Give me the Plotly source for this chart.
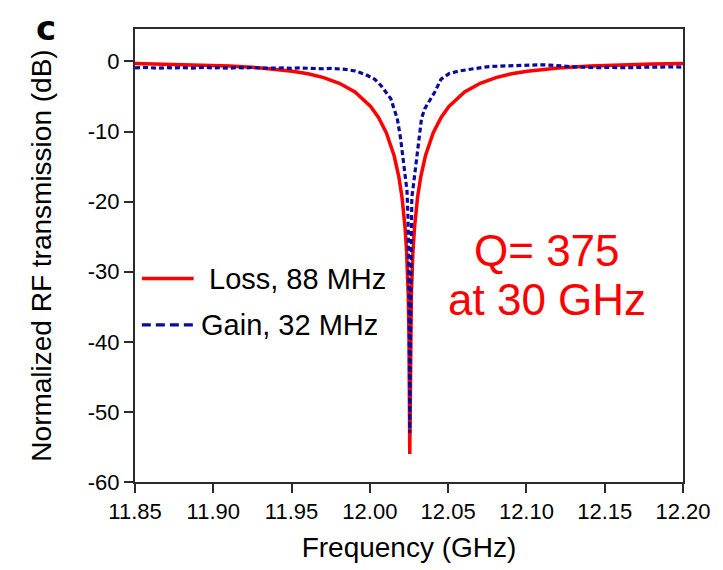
import plotly.graph_objects as go

# Loss-type resonance (fitted, 88 MHz linewidth)
loss_freq = [11.85, 11.8705, 11.8905, 11.9105, 11.9305, 11.9505, 11.9605, 11.9705,
             11.9805, 11.9905, 12.0005, 12.0055, 12.0105, 12.0155, 12.0185, 12.0205,
             12.0225, 12.0235, 12.0245, 12.0250, 12.0255, 12.0260, 12.0265, 12.0275,
             12.0285, 12.0305, 12.0325, 12.0355, 12.0405, 12.0455, 12.0505, 12.0605,
             12.0705, 12.0805, 12.0905, 12.1005, 12.1205, 12.1405, 12.1605, 12.1805, 12.20]
loss_db = [-0.29, -0.37, -0.48, -0.65, -0.92, -1.39, -1.76, -2.30,
           -3.11, -4.36, -6.42, -7.99, -10.17, -13.46, -16.45, -19.33,
           -23.73, -27.24, -33.23, -39.19, -56.0, -39.19, -33.23, -27.24,
           -23.73, -19.33, -16.45, -13.46, -10.17, -7.99, -6.42, -4.36,
           -3.11, -2.30, -1.76, -1.39, -0.92, -0.65, -0.48, -0.37, -0.29]

# Gain-type resonance (measured, 32 MHz linewidth)
gain_freq = [11.850, 11.855, 11.860, 11.865, 11.870, 11.875, 11.880, 11.885, 11.890,
             11.895, 11.900, 11.905, 11.910, 11.915, 11.920, 11.925, 11.930, 11.935,
             11.940, 11.945, 11.950, 11.955, 11.960, 11.965, 11.970, 11.975, 11.980,
             11.9843, 11.9905, 11.9968, 12.0030, 12.0072, 12.0103, 12.0134, 12.0154,
             12.0175, 12.0196, 12.0206, 12.0216, 12.0227, 12.0237, 12.0244, 12.0248,
             12.0251, 12.0253, 12.0255, 12.0258, 12.0261, 12.0264, 12.0268, 12.0279,
             12.0289, 12.0299, 12.0310, 12.0320, 12.0330, 12.0351, 12.0382, 12.0414,
             12.0455, 12.0507, 12.0569, 12.0652, 12.0733, 12.0790, 12.0838, 12.0890,
             12.0942, 12.0990, 12.1044, 12.1100, 12.1149, 12.1200, 12.1253, 12.1300,
             12.1354, 12.1410, 12.1460, 12.1510, 12.1564, 12.1620, 12.1665, 12.1720,
             12.1771, 12.1820, 12.1875, 12.1930, 12.1990]
gain_db = [-0.92, -0.85, -0.90, -0.96, -0.88, -0.93, -0.86, -0.95, -0.90,
           -0.84, -0.93, -0.89, -0.97, -0.88, -0.92, -0.86, -0.94, -0.99,
           -0.95, -0.91, -0.98, -0.93, -1.00, -0.96, -1.04, -1.00, -1.06,
           -1.12, -1.36, -1.82, -2.52, -3.46, -4.39, -5.33, -6.73,
           -8.13, -10.94, -12.8, -14.7, -16.5, -18.4, -22.5, -28.0,
           -35.0, -44.0, -53.0, -42.0, -33.0, -26.0, -19.4, -17.5,
           -15.6, -13.7, -11.9, -10.0, -8.13, -6.73, -5.56, -4.39,
           -2.52, -1.73, -1.36, -1.03, -0.80, -0.70, -0.66, -0.58,
           -0.52, -0.45, -0.42, -0.47, -0.52, -0.62, -0.70, -0.76,
           -0.80, -0.86, -0.89, -0.85, -0.89, -0.92, -0.89, -0.84,
           -0.80, -0.84, -0.80, -0.77, -0.80]

x_ticks = [11.85, 11.90, 11.95, 12.00, 12.05, 12.10, 12.15, 12.20]
y_ticks = [0, -10, -20, -30, -40, -50, -60]

FONT = "Liberation Sans, Arial, Helvetica, sans-serif"
RED = "#ff0000"
BLUE = "#0a0a9e"
AXIS = "#2b2b2b"

fig = go.Figure()
fig.add_trace(go.Scatter(x=loss_freq, y=loss_db, mode="lines", name="Loss, 88 MHz",
                         line=dict(color=RED, width=3.5)))
fig.add_trace(go.Scatter(x=gain_freq, y=gain_db, mode="lines", name="Gain, 32 MHz",
                         line=dict(color=BLUE, width=3.2, dash="5px,3px")))

# Hand-placed legend inside the axes
fig.add_shape(type="line", xref="x domain", yref="y domain", x0=0.0125, x1=0.107,
              y0=0.449, y1=0.449, line=dict(color=RED, width=3.5))
fig.add_shape(type="line", xref="x domain", yref="y domain", x0=0.0125, x1=0.107,
              y0=0.347, y1=0.347, line=dict(color=BLUE, width=3.2, dash="9px,5px"))
fig.add_annotation(xref="x domain", yref="y domain", x=0.131, y=0.449, text="Loss, 88 MHz",
                   showarrow=False, xanchor="left", yanchor="middle",
                   font=dict(family=FONT, size=29, color="black"))
fig.add_annotation(xref="x domain", yref="y domain", x=0.117, y=0.347, text="Gain, 32 MHz",
                   showarrow=False, xanchor="left", yanchor="middle",
                   font=dict(family=FONT, size=29, color="black"))

# Quality-factor note
fig.add_annotation(xref="x domain", yref="y domain", x=0.752, y=0.51, text="Q= 375",
                   showarrow=False, xanchor="center", yanchor="middle",
                   font=dict(family=FONT, size=44, color=RED))
fig.add_annotation(xref="x domain", yref="y domain", x=0.752, y=0.402, text="at 30 GHz",
                   showarrow=False, xanchor="center", yanchor="middle",
                   font=dict(family=FONT, size=44, color=RED))

# Panel letter
fig.add_annotation(xref="paper", yref="paper", x=-0.184, y=1.003, text="<b>c</b>",
                   showarrow=False, xanchor="left", yanchor="middle",
                   font=dict(family="DejaVu Sans, Arial, sans-serif", size=34, color="black"))

fig.update_layout(
    width=723, height=570,
    margin=dict(l=135, r=28, t=29, b=80),
    paper_bgcolor="white", plot_bgcolor="white",
    showlegend=False,
    font=dict(family=FONT, color="black"),
    xaxis=dict(range=[11.85, 12.20], tickvals=x_ticks,
               ticktext=[f"{v:.2f}" for v in x_ticks],
               ticks="outside", ticklen=9, tickwidth=2, tickcolor=AXIS,
               showline=True, linewidth=2, linecolor=AXIS, mirror=True,
               showgrid=False, zeroline=False,
               tickfont=dict(family=FONT, size=22, color="black"),
               title=dict(text="Frequency (GHz)", standoff=14,
                          font=dict(family=FONT, size=28, color="black"))),
    yaxis=dict(range=[-60, 4.63], tickvals=y_ticks,
               ticktext=[str(v) for v in y_ticks],
               ticks="outside", ticklen=9, tickwidth=2, tickcolor=AXIS,
               showline=True, linewidth=2, linecolor=AXIS, mirror=True,
               showgrid=False, zeroline=False,
               tickfont=dict(family=FONT, size=22, color="black"),
               title=dict(text="Normalized RF transmission (dB)", standoff=28,
                          font=dict(family=FONT, size=28, color="black"))),
)

fig.write_html("out.html")
